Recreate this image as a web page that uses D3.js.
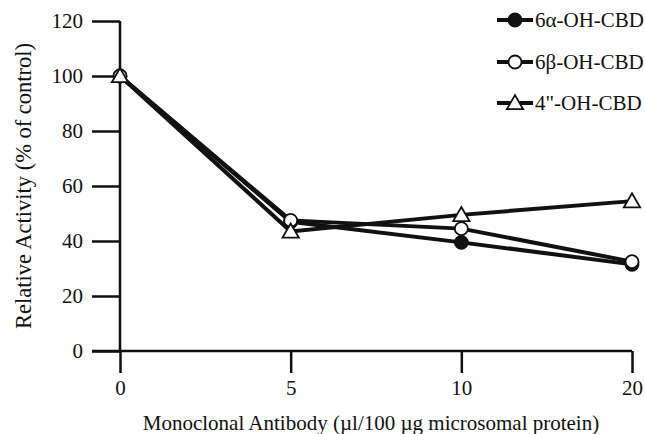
<!DOCTYPE html>
<html><head><meta charset="utf-8">
<script src="https://cdn.jsdelivr.net/npm/d3@7"></script>
<style>body{margin:0;background:#fff}svg{display:block}text{font-family:"Liberation Serif","Times New Roman",serif;fill:#111}</style>
</head><body><svg id="c" width="645" height="434"></svg>
<script>
const doses = ["0","5","10","20"];
const alpha = [100, 47, 39.5, 31.5];
const beta = [100, 47.5, 44.5, 32.5];
const four = [100, 43.5, 49.5, 54.5];
const seriesNames = ["6α-OH-CBD","6β-OH-CBD","4\"-OH-CBD"];
const yTicks = [0,20,40,60,80,100,120];

const series = [
  {name: seriesNames[0], values: alpha, shape: "filled"},
  {name: seriesNames[1], values: beta, shape: "open"},
  {name: seriesNames[2], values: four, shape: "tri"}
];

const svg = d3.select("#c");
const x = d3.scalePoint().domain(doses).range([120, 632]);
const y = d3.scaleLinear().domain([0,120]).range([351, 21]);
const ink = "#111";

// y axis
const ya = svg.append("g").attr("transform","translate(120,0)")
  .call(d3.axisLeft(y).tickValues(yTicks).tickSize(28).tickPadding(9).tickFormat(d3.format("d")));
ya.select(".domain").remove();
ya.selectAll("line").attr("stroke",ink).attr("stroke-width",2.5);
ya.selectAll("text").attr("font-size",21).style("fill",ink);
svg.append("line").attr("x1",120).attr("x2",120).attr("y1",y(120)).attr("y2",y(0)).attr("stroke",ink).attr("stroke-width",2.5);

// x axis
const xa = svg.append("g").attr("transform","translate(0,351)")
  .call(d3.axisBottom(x).tickSize(22).tickPadding(7));
xa.select(".domain").remove();
xa.selectAll("line").attr("stroke",ink).attr("stroke-width",2.5);
xa.selectAll("text").attr("font-size",21).style("fill",ink);
svg.append("line").attr("x1",92).attr("x2",x("20")).attr("y1",351).attr("y2",351).attr("stroke",ink).attr("stroke-width",2.5);

// titles
svg.append("text").attr("x",371).attr("y",430).attr("text-anchor","middle").attr("font-size",21)
  .text("Monoclonal Antibody (µl/100 µg microsomal protein)");
svg.append("text").attr("transform","translate(31,186) rotate(-90)").attr("text-anchor","middle").attr("font-size",22.5)
  .text("Relative Activity (% of control)");

const line = d3.line().x((d,i)=>x(doses[i])).y(d=>y(d));
const tri = d3.symbol().type(d3.symbolTriangle).size(115);

function marker(g, shape, cx, cy){
  if(shape==="tri"){
    g.append("path").attr("d",tri()).attr("transform",`translate(${cx},${cy+1.5})`)
      .attr("fill","#fff").attr("stroke",ink).attr("stroke-width",1.8);
  } else {
    g.append("circle").attr("cx",cx).attr("cy",cy).attr("r",6.5)
      .attr("fill", shape==="filled"?ink:"#fff").attr("stroke",ink).attr("stroke-width",1.8);
  }
}

series.forEach(s=>{
  svg.append("path").datum(s.values).attr("d",line).attr("fill","none").attr("stroke",ink).attr("stroke-width",4);
});
series.forEach(s=>{
  const g = svg.append("g");
  s.values.forEach((v,i)=>marker(g, s.shape, x(doses[i]), y(v)));
});

// legend
const ly = [20, 62, 103];
series.forEach((s,i)=>{
  const g = svg.append("g");
  g.append("line").attr("x1",497).attr("x2",533).attr("y1",ly[i]).attr("y2",ly[i]).attr("stroke",ink).attr("stroke-width",4);
  marker(g, s.shape, 515, ly[i]);
  g.append("text").attr("x",535).attr("y",ly[i]+7).attr("font-size",21).text(s.name);
});
</script></body></html>
